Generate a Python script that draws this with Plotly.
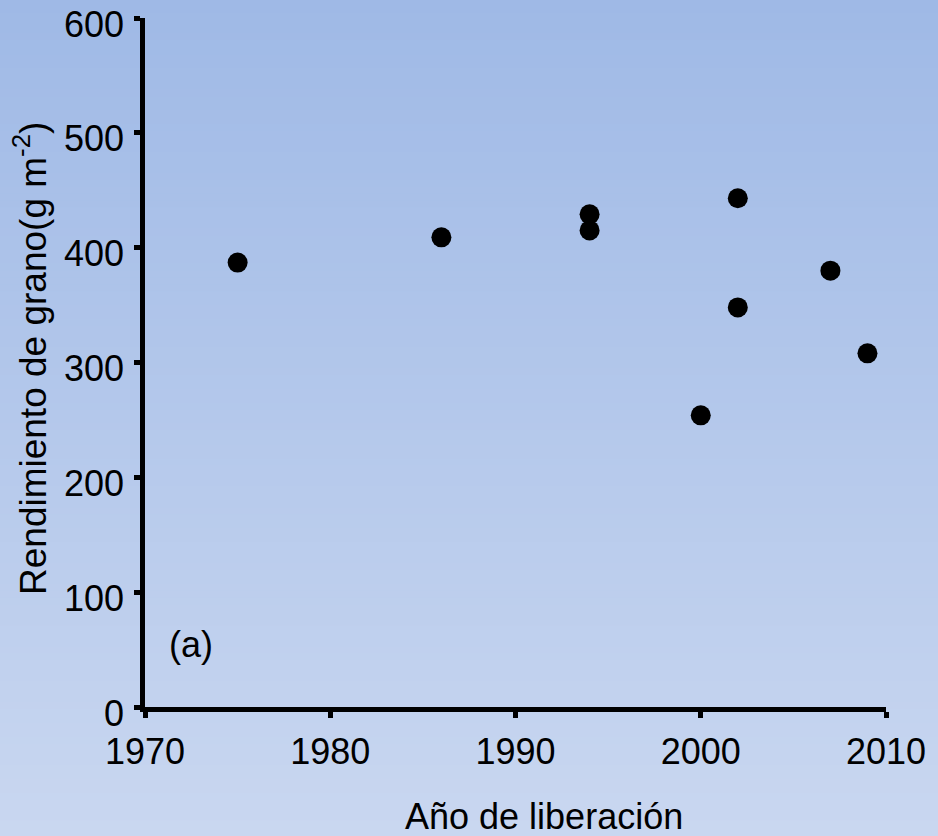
import plotly.graph_objects as go

# Data
years = [1975, 1986, 1994, 1994, 2000, 2002, 2002, 2007, 2009]
yields = [387, 409, 429, 415, 254, 443, 348, 380, 308]
x_ticks = [1970, 1980, 1990, 2000, 2010]
y_ticks = [0, 100, 200, 300, 400, 500, 600]

W, H = 938, 836
ML, MR, MT, MB = 145, 52, 18, 129
PW, PH = W - ML - MR, H - MT - MB
font_family = "Liberation Sans, Arial, sans-serif"


def px_x(p):
    return (p - ML) / PW


def px_y(p):
    return (H - MB - p) / PH


fig = go.Figure()
fig.add_trace(go.Scatter(
    x=years, y=yields, mode="markers",
    marker=dict(color="black", size=20, line=dict(width=0)),
    showlegend=False, cliponaxis=False,
))

# vertical gradient background built from bands
top = (159, 185, 230)
bot = (201, 215, 240)
n = 120
y0p = px_y(H)
y1p = px_y(0)
shapes = []
for i in range(n):
    t = i / (n - 1)
    c = tuple(round(top[k] + (bot[k] - top[k]) * t) for k in range(3))
    ya = y1p - (y1p - y0p) * i / n
    yb = y1p - (y1p - y0p) * (i + 1) / n
    if i == 0:
        ya += 0.1
    if i == n - 1:
        yb -= 0.1
    shapes.append(dict(type="rect", xref="paper", yref="paper",
                       x0=-1, x1=2, y0=yb - 0.002, y1=ya + 0.002,
                       fillcolor="rgb(%d,%d,%d)" % c, line=dict(width=0),
                       layer="below"))

axis_common = dict(showgrid=False, zeroline=False, automargin=False,
                   showline=True, linecolor="black", linewidth=4.5,
                   ticks="outside", ticklen=6, tickwidth=5, tickcolor="black",
                   ticklabeloverflow="allow",
                   tickfont=dict(size=36))

fig.update_layout(
    width=W, height=H,
    margin=dict(l=ML, r=MR, t=MT, b=MB, pad=0, autoexpand=False),
    paper_bgcolor="rgb(180,200,236)",
    plot_bgcolor="rgba(0,0,0,0)",
    font=dict(family=font_family, size=36, color="black"),
    shapes=shapes,
    xaxis=dict(range=[1970, 2010], tickvals=x_ticks, ticklabelstandoff=3, **axis_common),
    yaxis=dict(range=[0, 600], tickvals=y_ticks, ticklabelstandoff=3,
               ticklabelshift=6, **axis_common),
    annotations=[
        dict(x=1971.2, y=54, xref="x", yref="y", text="(a)",
             showarrow=False, xanchor="left", yanchor="middle",
             font=dict(size=36, color="black")),
        dict(x=px_x(544), y=px_y(816), xref="paper", yref="paper",
             text="Año de liberación", showarrow=False,
             xanchor="center", yanchor="middle", font=dict(size=36, color="black")),
        dict(x=px_x(30), y=px_y(359), xref="paper", yref="paper",
             text="Rendimiento de grano(g m<sup>-2</sup>)", showarrow=False,
             textangle=-90, xanchor="center", yanchor="middle",
             font=dict(size=37, color="black")),
    ],
)

fig.write_html("out.html")
